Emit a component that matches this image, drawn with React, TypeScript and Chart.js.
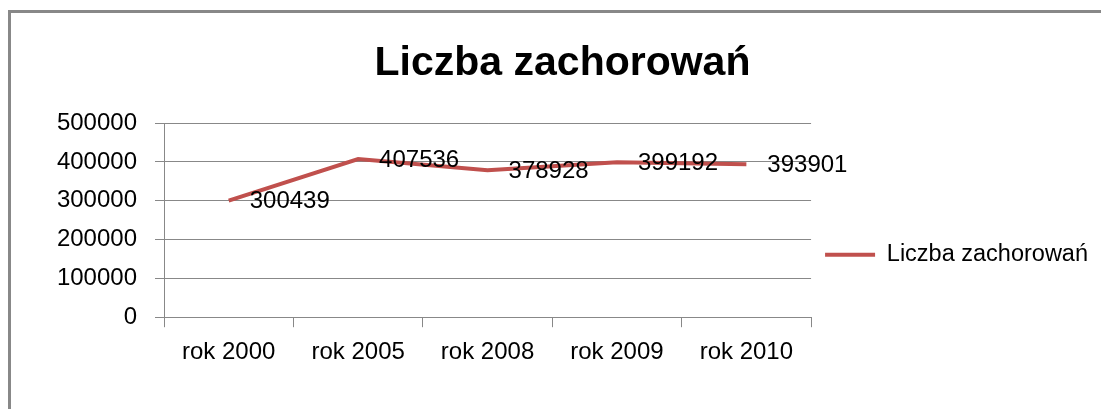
import React, { useEffect, useRef } from "react";
import { Chart, registerables } from "chart.js";

Chart.register(...registerables);

const categories = ["rok 2000", "rok 2005", "rok 2008", "rok 2009", "rok 2010"];
const values = [300439, 407536, 378928, 399192, 393901];
const seriesName = "Liczba zachorowań";
const chartTitle = "Liczba zachorowań";
const yTicks = [0, 100000, 200000, 300000, 400000, 500000];

const FONT = "'Liberation Sans', Arial, sans-serif";
const RED = "#C0504D";
const GRID = "#888888";

const dataLabelPlugin = {
  id: "dataLabels",
  afterDatasetsDraw(chart: any) {
    const ctx = chart.ctx;
    ctx.save();
    ctx.font = `24px ${FONT}`;
    ctx.fillStyle = "#000";
    ctx.textAlign = "left";
    ctx.textBaseline = "middle";
    chart.data.datasets.forEach((ds: any, i: number) => {
      const meta = chart.getDatasetMeta(i);
      meta.data.forEach((pt: any, j: number) => {
        ctx.fillText(String(ds.data[j]), pt.x + 21, pt.y + 1);
      });
    });
    ctx.restore();
  },
};

export default function App() {
  const ref = useRef<HTMLCanvasElement>(null);
  useEffect(() => {
    if (!ref.current) return;
    const chart = new Chart(ref.current, {
      type: "line",
      data: {
        labels: categories,
        datasets: [
          {
            label: seriesName,
            data: values,
            borderColor: RED,
            backgroundColor: RED,
            borderWidth: 4,
            pointRadius: 0,
            tension: 0,
          },
        ],
      },
      plugins: [dataLabelPlugin],
      options: {
        responsive: false,
        animation: false,
        layout: { padding: { left: 16, top: 0, bottom: 31, right: 3 } },
        plugins: {
          title: {
            display: true,
            text: chartTitle,
            color: "#000",
            font: { family: FONT, size: 41, weight: "bold", lineHeight: 1.2 },
            padding: { top: 26, bottom: 35 },
          },
          legend: {
            display: true,
            position: "right",
            align: "start",
            maxWidth: 400,
            title: {
              display: true,
              text: " ",
              font: { size: 10, lineHeight: 1 },
              padding: { top: 206, bottom: 0 },
            },
            labels: {
              color: "#000",
              font: { family: FONT, size: 23.5 },
              boxWidth: 50,
              boxHeight: 4,
              padding: 14,
              generateLabels: (c: any) =>
                Chart.defaults.plugins.legend.labels
                  .generateLabels(c)
                  .map((l: any) => ({ ...l, fillStyle: RED, strokeStyle: RED, lineWidth: 0 })),
            },
          },
          tooltip: { enabled: false },
        },
        scales: {
          x: {
            offset: true,
            grid: {
              offset: true,
              drawOnChartArea: false,
              drawTicks: true,
              tickLength: 10,
              color: GRID,
              lineWidth: 1,
            },
            border: { display: true, color: GRID, width: 1 },
            ticks: {
              color: "#000",
              font: { family: FONT, size: 24 },
              padding: 11,
              maxRotation: 0,
              autoSkip: false,
            },
          },
          y: {
            min: 0,
            max: 500000,
            afterFit: (s: any) => {
              s.width = 137;
            },
            afterBuildTicks: (s: any) => {
              s.ticks = yTicks.map((v) => ({ value: v }));
            },
            grid: {
              color: GRID,
              lineWidth: 1,
              drawTicks: true,
              tickLength: 9,
            },
            border: { display: true, color: GRID, width: 1 },
            ticks: {
              color: "#000",
              font: { family: FONT, size: 24 },
              padding: 18,
              callback: (v: any) => String(v),
            },
          },
        },
      },
    });
    return () => chart.destroy();
  }, []);

  return (
    <div
      style={{
        position: "absolute",
        left: 8,
        top: 10,
        borderLeft: "3px solid #888888",
        borderTop: "3px solid #888888",
        background: "#fff",
      }}
    >
      <canvas ref={ref} width={1090} height={396} style={{ display: "block" }} />
    </div>
  );
}
